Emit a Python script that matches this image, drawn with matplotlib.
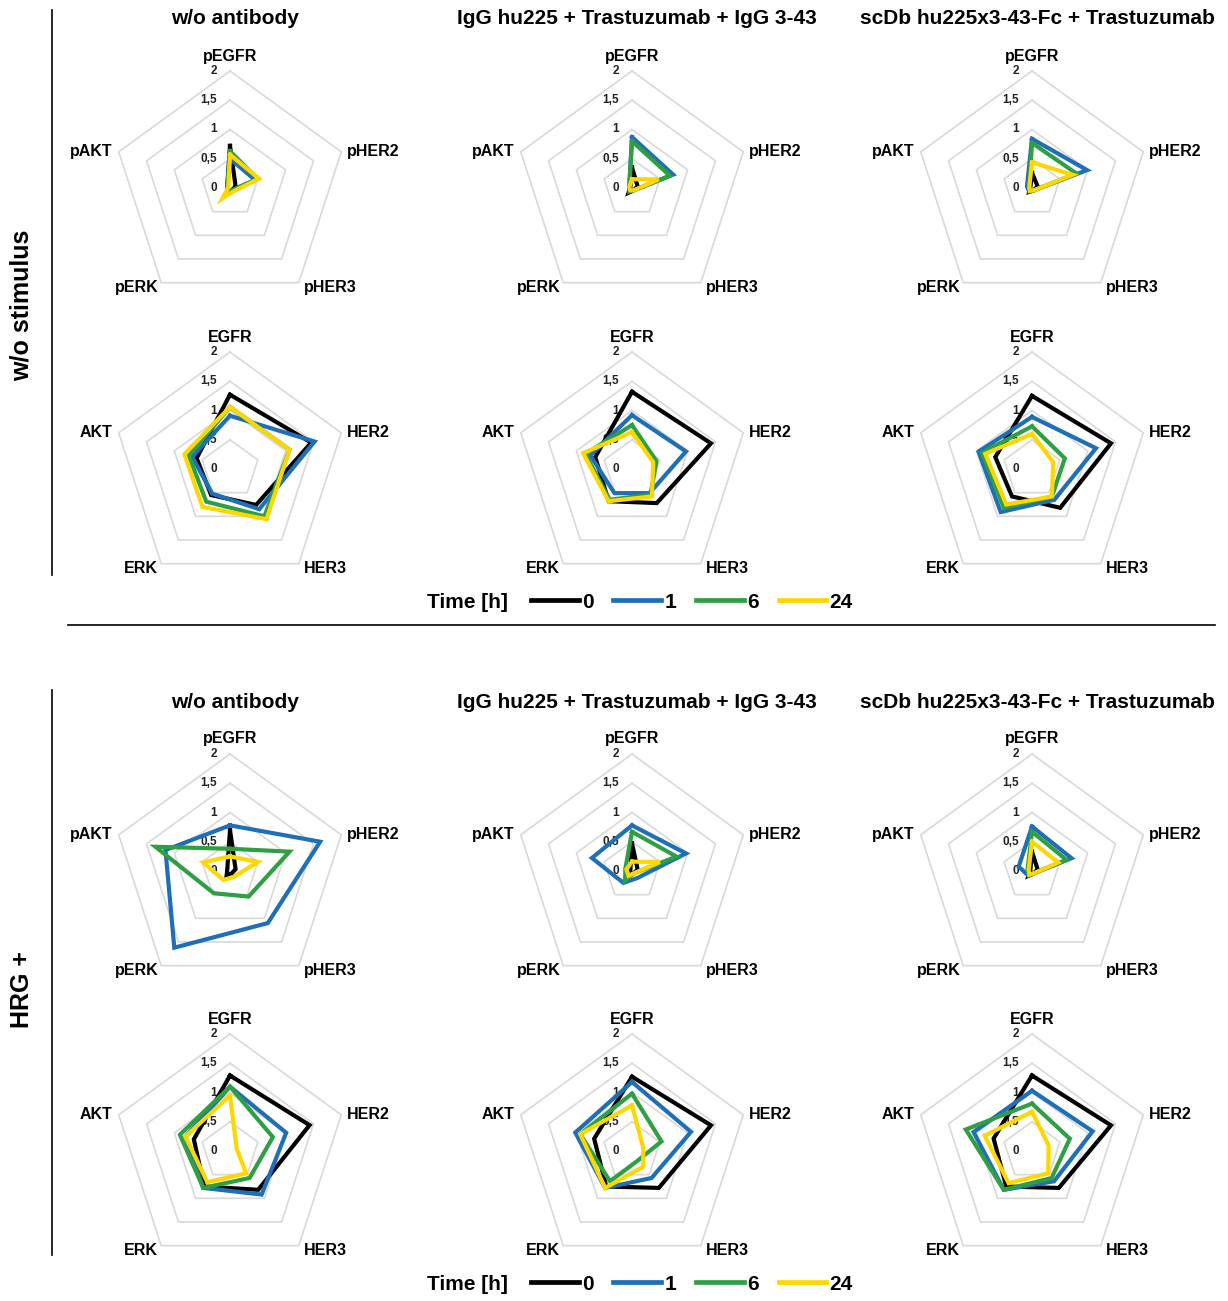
import numpy as np
import matplotlib
matplotlib.use("Agg")
import matplotlib.pyplot as plt
from matplotlib.lines import Line2D

plt.rcParams['font.family'] = ['Liberation Sans', 'DejaVu Sans']
plt.rcParams['font.weight'] = 'bold'

# ---------------- data ----------------
times = ["0", "1", "6", "24"]
colors = ["#000000", "#1F6FB8", "#2EA043", "#FFD700"]

phospho_axes = ["pEGFR", "pHER2", "pHER3", "pERK", "pAKT"]
total_axes = ["EGFR", "HER2", "HER3", "ERK", "AKT"]

col_titles = ["w/o antibody",
              "IgG hu225 + Trastuzumab + IgG 3-43",
              "scDb hu225x3-43-Fc + Trastuzumab"]
section_labels = ["w/o stimulus", "HRG +"]
ticks = [0, 0.5, 1, 1.5, 2]
tick_labels = ["0", "0,5", "1", "1,5", "2"]

# w/o stimulus, phospho  (series: 0, 1, 6, 24 h)
s1_p_noab = [[0.72, 0.10, 0.05, 0.05, 0.05],
             [0.50, 0.45, 0.05, 0.05, 0.05],
             [0.63, 0.50, 0.05, 0.05, 0.05],
             [0.57, 0.52, 0.08, 0.22, 0.03]]
s1_p_igg = [[0.35, 0.10, 0.05, 0.10, 0.03],
            [0.87, 0.74, 0.05, 0.08, 0.05],
            [0.80, 0.68, 0.05, 0.06, 0.05],
            [0.15, 0.48, 0.05, 0.05, 0.05]]
s1_p_scdb = [[0.26, 0.10, 0.05, 0.08, 0.03],
             [0.84, 0.99, 0.05, 0.08, 0.09],
             [0.77, 0.80, 0.05, 0.06, 0.05],
             [0.44, 0.73, 0.05, 0.06, 0.05]]
# w/o stimulus, total
s1_t_noab = [[1.27, 1.46, 0.76, 0.55, 0.60],
             [0.91, 1.52, 0.85, 0.52, 0.68],
             [1.06, 1.07, 1.00, 0.69, 0.74],
             [1.06, 1.07, 1.06, 0.80, 0.82]]
s1_t_igg = [[1.32, 1.42, 0.72, 0.68, 0.66],
            [0.92, 0.97, 0.51, 0.51, 0.75],
            [0.75, 0.44, 0.54, 0.65, 0.84],
            [0.63, 0.38, 0.58, 0.68, 0.88]]
s1_t_scdb = [[1.25, 1.42, 0.82, 0.58, 0.66],
             [0.89, 1.15, 0.65, 0.91, 0.96],
             [0.73, 0.59, 0.58, 0.82, 0.90],
             [0.60, 0.38, 0.58, 0.75, 0.84]]
# HRG +, phospho
s2_p_noab = [[0.70, 0.10, 0.05, 0.10, 0.05],
             [0.78, 1.62, 1.10, 1.62, 1.16],
             [0.38, 1.07, 0.54, 0.47, 1.34],
             [0.25, 0.50, 0.12, 0.19, 0.48]]
s2_p_igg = [[0.47, 0.10, 0.05, 0.05, 0.03],
            [0.78, 0.97, 0.15, 0.25, 0.72],
            [0.67, 0.80, 0.05, 0.20, 0.12],
            [0.16, 0.50, 0.05, 0.10, 0.10]]
s2_p_scdb = [[0.33, 0.10, 0.05, 0.10, 0.03],
             [0.76, 0.71, 0.05, 0.10, 0.24],
             [0.67, 0.62, 0.05, 0.08, 0.08],
             [0.50, 0.47, 0.05, 0.08, 0.06]]
# HRG +, total
s2_t_noab = [[1.29, 1.43, 0.82, 0.75, 0.65],
             [1.10, 1.01, 0.92, 0.78, 0.80],
             [1.10, 0.77, 0.57, 0.78, 0.90],
             [0.95, 0.12, 0.47, 0.66, 0.80]]
s2_t_igg = [[1.27, 1.42, 0.78, 0.75, 0.68],
            [1.18, 1.06, 0.57, 0.78, 1.02],
            [0.98, 0.53, 0.19, 0.64, 0.93],
            [0.78, 0.20, 0.33, 0.78, 0.93]]
s2_t_scdb = [[1.29, 1.42, 0.78, 0.75, 0.69],
             [1.03, 1.09, 0.64, 0.82, 1.05],
             [0.81, 0.68, 0.57, 0.82, 1.19],
             [0.67, 0.30, 0.47, 0.68, 0.85]]

panels = [
    [s1_p_noab, s1_p_igg, s1_p_scdb],
    [s1_t_noab, s1_t_igg, s1_t_scdb],
    [s2_p_noab, s2_p_igg, s2_p_scdb],
    [s2_t_noab, s2_t_igg, s2_t_scdb],
]
row_axes = [phospho_axes, total_axes, phospho_axes, total_axes]

# ---------------- layout ----------------
W, H = 1228, 1301
fig = plt.figure(figsize=(W / 100, H / 100), dpi=100)
R = 117
col_cx = [230, 632, 1032]
row_cy = [188, 469, 871, 1151]

theta = np.deg2rad(np.arange(5) * 72.0)
theta_c = np.append(theta, theta[0])
PX = 0.72  # px -> pt

# label offsets (px) and alignments per axis
lab_style = [((0, 15), 'center', 'center'),
             ((6, 0), 'left', 'center'),
             ((5, -5), 'left', 'center'),
             ((-3, -5), 'right', 'center'),
             ((-6, 0), 'right', 'center')]

for ri, cy in enumerate(row_cy):
    for ci, cx in enumerate(col_cx):
        ax = fig.add_axes([(cx - R) / W, 1 - (cy + R) / H, 2 * R / W, 2 * R / H],
                          projection='polar')
        ax.set_theta_zero_location('N')
        ax.set_theta_direction(-1)
        ax.set_ylim(0, 2)
        ax.set_xticks([])
        ax.set_yticks([])
        ax.grid(False)
        ax.spines['polar'].set_visible(False)
        ax.patch.set_alpha(0)
        for r in ticks[1:]:
            ax.plot(theta_c, [r] * 6, color='#D9D9D9', lw=1.2, zorder=1,
                    clip_on=False)
        for r, tl in zip(ticks, tick_labels):
            ax.annotate(tl, xy=(0, r), xytext=(-13 * PX, 0),
                        textcoords='offset points', ha='right', va='center',
                        fontsize=8.5, fontweight='bold', color='#222222')
        for k, name in enumerate(row_axes[ri]):
            (dx, dy), ha, va = lab_style[k]
            ax.annotate(name, xy=(theta[k], 2), xytext=(dx * PX, dy * PX),
                        textcoords='offset points', ha=ha, va=va,
                        fontsize=11.5, fontweight='bold', annotation_clip=False)
        for si, vals in enumerate(panels[ri][ci]):
            v = list(vals) + [vals[0]]
            ax.plot(theta_c, v, color=colors[si], lw=3.0, zorder=3 + si,
                    solid_joinstyle='miter', clip_on=False)

# column titles
for cy_title in [18, 702]:
    for ci, cx in enumerate(col_cx):
        fig.text((cx + 5) / W, 1 - cy_title / H, col_titles[ci], ha='center',
                 va='center', fontsize=15, fontweight='bold')

# legends
handles = [Line2D([0], [0], color=c, lw=3.4) for c in colors]
for ly in [602, 1284]:
    fig.text(508 / W, 1 - ly / H, "Time [h]", ha='right', va='center',
             fontsize=15, fontweight='bold')
    fig.legend(handles, times, loc='center left',
               bbox_to_anchor=(531 / W, 1 - ly / H), ncol=4, frameon=False,
               handlelength=2.3, handletextpad=0.15, columnspacing=0.95,
               borderpad=0, borderaxespad=0,
               prop={'size': 15, 'weight': 'bold'})

# section separators and labels
fig.add_artist(Line2D([52 / W, 52 / W], [1 - 10 / H, 1 - 575 / H], color='black', lw=1.2))
fig.add_artist(Line2D([52 / W, 52 / W], [1 - 690 / H, 1 - 1255 / H], color='black', lw=1.2))
fig.add_artist(Line2D([68 / W, 1215 / W], [1 - 625 / H, 1 - 625 / H], color='black', lw=1.2))
fig.text(22 / W, 1 - 305 / H, section_labels[0], rotation=90, ha='center',
         va='center', fontsize=18, fontweight='bold')
fig.text(22 / W, 1 - 990 / H, section_labels[1], rotation=90, ha='center',
         va='center', fontsize=18, fontweight='bold')

fig.savefig("out.png", dpi=100, facecolor='white')
